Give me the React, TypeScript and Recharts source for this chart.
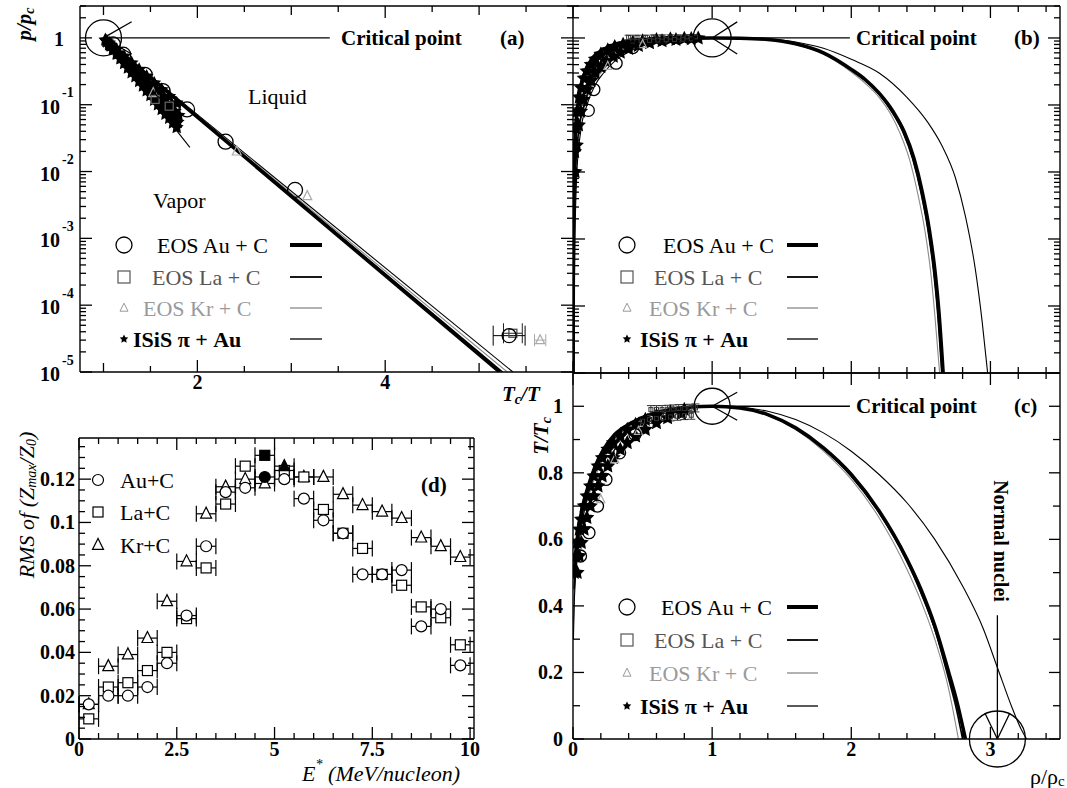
import React from "react";
import {
  ComposedChart,
  Line,
  Scatter,
  XAxis,
  YAxis,
  ErrorBar,
  ReferenceDot,
  ReferenceLine,
} from "recharts";

const FONT = "'Liberation Serif','Times New Roman',serif";

type P = { x: number; y: number; ex?: number; ey?: number };

// ================= Panel (a): p/pc vs Tc/T =================
const aFitAu: P[] = [{ x: 1, y: 1 }, { x: 5.22, y: 1e-5 }];
const aFitLa: P[] = [{ x: 1, y: 1 }, { x: 5.25, y: 1e-5 }];
const aFitKr: P[] = [{ x: 1, y: 1 }, { x: 5.3, y: 1e-5 }];
const aFitIsis: P[] = [{ x: 1, y: 1 }, { x: 5.36, y: 1e-5 }];
const aFitIsisSteep: P[] = [{ x: 1, y: 1 }, { x: 1.92, y: 0.023 }];
const aAu: P[] = [
  { x: 1.1, y: 0.8 }, { x: 1.21, y: 0.56 }, { x: 1.44, y: 0.28 }, { x: 1.63, y: 0.16 },
  { x: 1.89, y: 0.085 }, { x: 2.3, y: 0.028 }, { x: 3.04, y: 0.0053 },
];
const aAuOut: P[] = [{ x: 5.32, y: 3.5e-5, ex: 0.17 }];
const aLa: P[] = [{ x: 1.55, y: 0.12 }, { x: 1.7, y: 0.095 }];
const aLaOut: P[] = [{ x: 5.36, y: 3.8e-5, ex: 0.1 }];
const aKr: P[] = [{ x: 1.53, y: 0.15 }, { x: 2.42, y: 0.02 }, { x: 3.17, y: 0.0043 }];
const aKrOut: P[] = [{ x: 5.65, y: 3e-5, ex: 0.06 }];
const aIsis: P[] = [
  { x: 1.02, y: 0.933 }, { x: 1.06, y: 0.794 }, { x: 1.1, y: 0.676 }, { x: 1.14, y: 0.575 },
  { x: 1.18, y: 0.49 }, { x: 1.22, y: 0.417 }, { x: 1.26, y: 0.355 }, { x: 1.3, y: 0.302 },
  { x: 1.34, y: 0.263 }, { x: 1.38, y: 0.224 }, { x: 1.42, y: 0.191 }, { x: 1.46, y: 0.162 },
  { x: 1.5, y: 0.138 }, { x: 1.54, y: 0.117 }, { x: 1.58, y: 0.1 }, { x: 1.62, y: 0.0851 },
  { x: 1.66, y: 0.0724 }, { x: 1.7, y: 0.0631 }, { x: 1.74, y: 0.0537 }, { x: 1.78, y: 0.0457 },
  { x: 1.04, y: 0.871 }, { x: 1.08, y: 0.759 }, { x: 1.12, y: 0.676 }, { x: 1.16, y: 0.589 },
  { x: 1.2, y: 0.513 }, { x: 1.24, y: 0.447 }, { x: 1.28, y: 0.389 }, { x: 1.32, y: 0.347 },
  { x: 1.36, y: 0.302 }, { x: 1.4, y: 0.263 }, { x: 1.44, y: 0.229 }, { x: 1.48, y: 0.2 },
  { x: 1.52, y: 0.178 }, { x: 1.56, y: 0.155 }, { x: 1.6, y: 0.135 }, { x: 1.64, y: 0.117 },
  { x: 1.68, y: 0.102 }, { x: 1.72, y: 0.0912 }, { x: 1.76, y: 0.0794 }, { x: 1.8, y: 0.0692 },
  { x: 1.03, y: 0.895 }, { x: 1.07, y: 0.773 }, { x: 1.11, y: 0.667 }, { x: 1.15, y: 0.575 },
  { x: 1.19, y: 0.497 }, { x: 1.23, y: 0.429 }, { x: 1.27, y: 0.37 }, { x: 1.31, y: 0.319 },
  { x: 1.35, y: 0.275 }, { x: 1.39, y: 0.238 }, { x: 1.43, y: 0.205 }, { x: 1.47, y: 0.177 },
  { x: 1.51, y: 0.153 }, { x: 1.55, y: 0.132 }, { x: 1.59, y: 0.114 }, { x: 1.63, y: 0.0982 },
  { x: 1.67, y: 0.0847 }, { x: 1.71, y: 0.0731 }, { x: 1.75, y: 0.0631 }, { x: 1.79, y: 0.0545 },
  { x: 1.06, y: 0.841 }, { x: 1.14, y: 0.668 }, { x: 1.22, y: 0.531 }, { x: 1.3, y: 0.422 },
  { x: 1.38, y: 0.335 }, { x: 1.46, y: 0.266 }, { x: 1.54, y: 0.211 }, { x: 1.62, y: 0.168 },
  { x: 1.7, y: 0.133 }, { x: 1.78, y: 0.106 },
];

// ================= Panel (b): p/pc vs rho/rhoc =================
const bAu: P[] = [
  { x: 0.001, y: 1e-5 }, { x: 0.0015, y: 1e-4 }, { x: 0.003, y: 1e-3 }, { x: 0.008, y: 0.01 },
  { x: 0.018, y: 0.04 }, { x: 0.035, y: 0.1 }, { x: 0.06, y: 0.2 }, { x: 0.09, y: 0.32 },
  { x: 0.14, y: 0.5 }, { x: 0.22, y: 0.68 }, { x: 0.3, y: 0.8 }, { x: 0.4, y: 0.89 },
  { x: 0.55, y: 0.95 }, { x: 0.75, y: 0.985 }, { x: 1, y: 1 },
  { x: 1.2, y: 0.99 }, { x: 1.4, y: 0.95 }, { x: 1.6, y: 0.82 }, { x: 1.8, y: 0.6 },
  { x: 2.0, y: 0.34 }, { x: 2.1, y: 0.24 }, { x: 2.2, y: 0.15 }, { x: 2.3, y: 0.08 },
  { x: 2.38, y: 0.04 }, { x: 2.45, y: 0.016 }, { x: 2.51, y: 5e-3 }, { x: 2.56, y: 1.4e-3 },
  { x: 2.6, y: 3.5e-4 }, { x: 2.63, y: 8e-5 }, { x: 2.66, y: 1e-5 },
];
const bLa: P[] = [
  { x: 0.002, y: 1e-5 }, { x: 0.004, y: 1e-4 }, { x: 0.008, y: 1e-3 }, { x: 0.018, y: 0.01 },
  { x: 0.04, y: 0.04 }, { x: 0.08, y: 0.1 }, { x: 0.13, y: 0.2 }, { x: 0.18, y: 0.3 },
  { x: 0.26, y: 0.46 }, { x: 0.36, y: 0.64 }, { x: 0.48, y: 0.8 }, { x: 0.62, y: 0.9 },
  { x: 0.8, y: 0.97 }, { x: 1, y: 1 },
  { x: 1.2, y: 0.99 }, { x: 1.4, y: 0.95 }, { x: 1.6, y: 0.81 }, { x: 1.8, y: 0.59 },
  { x: 2.0, y: 0.33 }, { x: 2.1, y: 0.23 }, { x: 2.2, y: 0.145 }, { x: 2.29, y: 0.08 },
  { x: 2.37, y: 0.04 }, { x: 2.44, y: 0.016 }, { x: 2.5, y: 5e-3 }, { x: 2.55, y: 1.4e-3 },
  { x: 2.59, y: 3.5e-4 }, { x: 2.62, y: 8e-5 }, { x: 2.65, y: 1e-5 },
];
const bKr: P[] = [
  { x: 0.003, y: 1e-5 }, { x: 0.006, y: 1e-4 }, { x: 0.011, y: 1e-3 }, { x: 0.022, y: 0.01 },
  { x: 0.045, y: 0.04 }, { x: 0.085, y: 0.1 }, { x: 0.14, y: 0.2 }, { x: 0.2, y: 0.3 },
  { x: 0.28, y: 0.46 }, { x: 0.38, y: 0.64 }, { x: 0.5, y: 0.8 }, { x: 0.64, y: 0.9 },
  { x: 0.8, y: 0.97 }, { x: 1, y: 1 },
  { x: 1.2, y: 0.99 }, { x: 1.4, y: 0.94 }, { x: 1.6, y: 0.8 }, { x: 1.8, y: 0.57 },
  { x: 2.0, y: 0.31 }, { x: 2.1, y: 0.21 }, { x: 2.2, y: 0.13 }, { x: 2.28, y: 0.075 },
  { x: 2.35, y: 0.038 }, { x: 2.42, y: 0.015 }, { x: 2.48, y: 4.5e-3 }, { x: 2.53, y: 1.3e-3 },
  { x: 2.57, y: 3.3e-4 }, { x: 2.6, y: 7.5e-5 }, { x: 2.635, y: 1e-5 },
];
const bIsis: P[] = [
  { x: 0.004, y: 1e-5 }, { x: 0.008, y: 1e-4 }, { x: 0.014, y: 1e-3 }, { x: 0.028, y: 0.01 },
  { x: 0.055, y: 0.04 }, { x: 0.1, y: 0.1 }, { x: 0.16, y: 0.2 }, { x: 0.22, y: 0.3 },
  { x: 0.3, y: 0.45 }, { x: 0.4, y: 0.62 }, { x: 0.52, y: 0.78 }, { x: 0.66, y: 0.89 },
  { x: 0.82, y: 0.965 }, { x: 1, y: 1 },
  { x: 1.2, y: 0.99 }, { x: 1.4, y: 0.96 }, { x: 1.6, y: 0.87 }, { x: 1.8, y: 0.7 },
  { x: 2.0, y: 0.48 }, { x: 2.2, y: 0.3 }, { x: 2.4, y: 0.13 }, { x: 2.55, y: 0.055 },
  { x: 2.65, y: 0.025 }, { x: 2.75, y: 8e-3 }, { x: 2.82, y: 2.2e-3 }, { x: 2.89, y: 3.7e-4 },
  { x: 2.94, y: 6e-5 }, { x: 2.98, y: 1e-5 },
];
const bAuPts: P[] = [
  { x: 0.11, y: 0.083 }, { x: 0.15, y: 0.17 }, { x: 0.31, y: 0.42 }, { x: 0.43, y: 0.72 },
];
const bLaPts: P[] = [
  { x: 0.4, y: 1.02, ey: 0.08 }, { x: 0.46, y: 1.02, ey: 0.08 }, { x: 0.52, y: 1.02, ey: 0.08 },
  { x: 0.58, y: 1.03, ey: 0.08 }, { x: 0.64, y: 1.03, ey: 0.08 }, { x: 0.7, y: 1.03, ey: 0.08 },
  { x: 0.76, y: 1.03, ey: 0.08 }, { x: 0.82, y: 1.04, ey: 0.08 }, { x: 0.88, y: 1.04, ey: 0.08 },
  { x: 0.43, y: 0.9, ey: 0.07 }, { x: 0.49, y: 0.91, ey: 0.07 }, { x: 0.55, y: 0.92, ey: 0.07 },
  { x: 0.61, y: 0.93, ey: 0.07 }, { x: 0.67, y: 0.94, ey: 0.07 }, { x: 0.73, y: 0.95, ey: 0.07 },
  { x: 0.79, y: 0.96, ey: 0.07 }, { x: 0.85, y: 0.97, ey: 0.07 },
];
const bKrPts: P[] = [{ x: 0.25, y: 0.38 }, { x: 0.5, y: 0.8 }];
const bIsisPts: P[] = [
  { x: 0.012, y: 0.02 }, { x: 0.02, y: 0.045 }, { x: 0.03, y: 0.08 }, { x: 0.045, y: 0.13 },
  { x: 0.06, y: 0.18 }, { x: 0.08, y: 0.25 }, { x: 0.1, y: 0.32 }, { x: 0.13, y: 0.4 },
  { x: 0.16, y: 0.48 }, { x: 0.2, y: 0.57 }, { x: 0.25, y: 0.66 }, { x: 0.3, y: 0.74 },
  { x: 0.36, y: 0.8 }, { x: 0.43, y: 0.86 }, { x: 0.5, y: 0.9 }, { x: 0.6, y: 0.94 },
  { x: 0.7, y: 0.965 }, { x: 0.8, y: 0.98 }, { x: 0.9, y: 0.99 },
  { x: 0.015, y: 0.01 }, { x: 0.025, y: 0.025 }, { x: 0.04, y: 0.05 }, { x: 0.055, y: 0.08 },
  { x: 0.075, y: 0.12 }, { x: 0.1, y: 0.17 }, { x: 0.13, y: 0.23 }, { x: 0.16, y: 0.3 },
  { x: 0.2, y: 0.37 }, { x: 0.24, y: 0.45 }, { x: 0.29, y: 0.53 }, { x: 0.34, y: 0.61 },
  { x: 0.4, y: 0.69 }, { x: 0.47, y: 0.77 }, { x: 0.55, y: 0.84 }, { x: 0.64, y: 0.9 },
  { x: 0.74, y: 0.94 }, { x: 0.85, y: 0.97 },
];

// ================= Panel (c): T/Tc vs rho/rhoc =================
const cAu: P[] = [
  { x: 0.01, y: 0.5 }, { x: 0.02, y: 0.56 }, { x: 0.04, y: 0.63 }, { x: 0.07, y: 0.7 },
  { x: 0.11, y: 0.76 }, { x: 0.16, y: 0.82 }, { x: 0.22, y: 0.87 }, { x: 0.3, y: 0.915 },
  { x: 0.42, y: 0.95 }, { x: 0.55, y: 0.975 }, { x: 0.7, y: 0.99 }, { x: 0.85, y: 0.998 }, { x: 1, y: 1 },
  { x: 1.2, y: 0.995 }, { x: 1.4, y: 0.975 }, { x: 1.6, y: 0.935 }, { x: 1.8, y: 0.875 },
  { x: 2.0, y: 0.795 }, { x: 2.2, y: 0.685 }, { x: 2.4, y: 0.54 }, { x: 2.5, y: 0.45 },
  { x: 2.6, y: 0.34 }, { x: 2.7, y: 0.2 }, { x: 2.76, y: 0.11 }, { x: 2.82, y: 0 },
];
const cLa: P[] = [
  { x: 0.008, y: 0.45 }, { x: 0.02, y: 0.54 }, { x: 0.04, y: 0.615 }, { x: 0.07, y: 0.685 },
  { x: 0.11, y: 0.75 }, { x: 0.16, y: 0.81 }, { x: 0.22, y: 0.86 }, { x: 0.3, y: 0.91 },
  { x: 0.42, y: 0.948 }, { x: 0.55, y: 0.973 }, { x: 0.7, y: 0.989 }, { x: 0.85, y: 0.997 }, { x: 1, y: 1 },
  { x: 1.2, y: 0.995 }, { x: 1.4, y: 0.974 }, { x: 1.6, y: 0.933 }, { x: 1.8, y: 0.872 },
  { x: 2.0, y: 0.79 }, { x: 2.2, y: 0.68 }, { x: 2.4, y: 0.535 }, { x: 2.5, y: 0.44 },
  { x: 2.6, y: 0.33 }, { x: 2.7, y: 0.18 }, { x: 2.75, y: 0.1 }, { x: 2.8, y: 0 },
];
const cKr: P[] = [
  { x: 0.003, y: 0.35 }, { x: 0.012, y: 0.45 }, { x: 0.035, y: 0.56 }, { x: 0.07, y: 0.66 },
  { x: 0.12, y: 0.74 }, { x: 0.18, y: 0.81 }, { x: 0.26, y: 0.87 }, { x: 0.36, y: 0.92 },
  { x: 0.48, y: 0.956 }, { x: 0.62, y: 0.98 }, { x: 0.8, y: 0.995 }, { x: 1, y: 1 },
  { x: 1.2, y: 0.995 }, { x: 1.4, y: 0.972 }, { x: 1.6, y: 0.93 }, { x: 1.8, y: 0.865 },
  { x: 2.0, y: 0.78 }, { x: 2.2, y: 0.665 }, { x: 2.4, y: 0.51 }, { x: 2.5, y: 0.415 },
  { x: 2.6, y: 0.3 }, { x: 2.7, y: 0.15 }, { x: 2.77, y: 0 },
];
const cIsis: P[] = [
  { x: 0.003, y: 0.3 }, { x: 0.01, y: 0.42 }, { x: 0.03, y: 0.54 }, { x: 0.06, y: 0.64 },
  { x: 0.1, y: 0.72 }, { x: 0.16, y: 0.8 }, { x: 0.24, y: 0.87 }, { x: 0.34, y: 0.92 },
  { x: 0.46, y: 0.958 }, { x: 0.6, y: 0.982 }, { x: 0.78, y: 0.996 }, { x: 1, y: 1 },
  { x: 1.2, y: 0.997 }, { x: 1.4, y: 0.985 }, { x: 1.6, y: 0.96 }, { x: 1.8, y: 0.92 },
  { x: 2.0, y: 0.865 }, { x: 2.2, y: 0.795 }, { x: 2.4, y: 0.71 }, { x: 2.6, y: 0.6 },
  { x: 2.8, y: 0.46 }, { x: 2.95, y: 0.33 }, { x: 3.05, y: 0.215 }, { x: 3.15, y: 0.1 },
  { x: 3.22, y: 0.03 }, { x: 3.26, y: 0 },
];
const cAuPts: P[] = [
  { x: 0.054, y: 0.55 }, { x: 0.115, y: 0.62 }, { x: 0.176, y: 0.7 }, { x: 0.237, y: 0.78 },
  { x: 0.335, y: 0.86 }, { x: 0.445, y: 0.915 },
];
const cKrPts: P[] = [{ x: 0.2, y: 0.72 }, { x: 0.3, y: 0.84 }, { x: 0.47, y: 0.925 }];
const cLaPts: P[] = [
  { x: 0.56, y: 0.99, ey: 0.012 }, { x: 0.6, y: 0.99, ey: 0.012 }, { x: 0.64, y: 0.99, ey: 0.012 },
  { x: 0.68, y: 0.991, ey: 0.012 }, { x: 0.72, y: 0.992, ey: 0.012 }, { x: 0.76, y: 0.993, ey: 0.012 },
  { x: 0.8, y: 0.993, ey: 0.012 }, { x: 0.84, y: 0.994, ey: 0.012 }, { x: 0.88, y: 0.995, ey: 0.012 },
  { x: 0.5, y: 0.955, ey: 0.012 }, { x: 0.55, y: 0.96, ey: 0.012 }, { x: 0.6, y: 0.963, ey: 0.012 },
  { x: 0.65, y: 0.966, ey: 0.012 }, { x: 0.7, y: 0.968, ey: 0.012 }, { x: 0.75, y: 0.97, ey: 0.012 },
  { x: 0.8, y: 0.972, ey: 0.012 }, { x: 0.85, y: 0.973, ey: 0.012 },
];
const cIsisPts: P[] = [
  { x: 0.01, y: 0.5 }, { x: 0.02, y: 0.55 }, { x: 0.03, y: 0.59 }, { x: 0.045, y: 0.63 },
  { x: 0.06, y: 0.66 }, { x: 0.08, y: 0.7 }, { x: 0.1, y: 0.73 }, { x: 0.125, y: 0.76 },
  { x: 0.15, y: 0.79 }, { x: 0.18, y: 0.82 }, { x: 0.21, y: 0.845 }, { x: 0.25, y: 0.87 },
  { x: 0.29, y: 0.89 }, { x: 0.34, y: 0.91 }, { x: 0.39, y: 0.93 }, { x: 0.45, y: 0.945 },
  { x: 0.52, y: 0.96 }, { x: 0.6, y: 0.972 }, { x: 0.7, y: 0.982 }, { x: 0.8, y: 0.99 },
  { x: 0.03, y: 0.5 }, { x: 0.045, y: 0.55 }, { x: 0.06, y: 0.59 }, { x: 0.08, y: 0.63 },
  { x: 0.1, y: 0.665 }, { x: 0.125, y: 0.7 }, { x: 0.15, y: 0.73 }, { x: 0.18, y: 0.76 },
  { x: 0.21, y: 0.79 }, { x: 0.25, y: 0.82 }, { x: 0.29, y: 0.845 }, { x: 0.34, y: 0.87 },
  { x: 0.39, y: 0.89 }, { x: 0.45, y: 0.91 }, { x: 0.52, y: 0.93 }, { x: 0.6, y: 0.95 },
  { x: 0.68, y: 0.965 }, { x: 0.78, y: 0.978 },
];

// ================= Panel (d): RMS of Zmax/Z0 vs E* =================
const dAu: P[] = [
  { x: 0.25, y: 0.016, ex: 0.25 }, { x: 0.75, y: 0.02, ex: 0.25 }, { x: 1.25, y: 0.02, ex: 0.25 },
  { x: 1.75, y: 0.024, ex: 0.25 }, { x: 2.25, y: 0.035, ex: 0.25 }, { x: 2.75, y: 0.057, ex: 0.25 },
  { x: 3.25, y: 0.089, ex: 0.25 }, { x: 3.75, y: 0.114, ex: 0.25 }, { x: 4.25, y: 0.116, ex: 0.25 },
  { x: 5.25, y: 0.12, ex: 0.25 }, { x: 5.75, y: 0.111, ex: 0.25 }, { x: 6.25, y: 0.101, ex: 0.25 },
  { x: 6.75, y: 0.095, ex: 0.25 }, { x: 7.25, y: 0.076, ex: 0.25 }, { x: 7.75, y: 0.076, ex: 0.25 },
  { x: 8.25, y: 0.078, ex: 0.25 }, { x: 8.75, y: 0.052, ex: 0.25 }, { x: 9.25, y: 0.06, ex: 0.25 },
  { x: 9.75, y: 0.034, ex: 0.25 },
];
const dAuCrit: P[] = [{ x: 4.75, y: 0.121, ex: 0.25 }];
const dLa: P[] = [
  { x: 0.25, y: 0.0093, ex: 0.25 }, { x: 0.75, y: 0.024, ex: 0.25 }, { x: 1.25, y: 0.026, ex: 0.25 },
  { x: 1.75, y: 0.0316, ex: 0.25 }, { x: 2.25, y: 0.04, ex: 0.25 }, { x: 2.75, y: 0.0556, ex: 0.25 },
  { x: 3.25, y: 0.079, ex: 0.25 }, { x: 3.75, y: 0.1085, ex: 0.25 }, { x: 4.25, y: 0.126, ex: 0.25 },
  { x: 5.25, y: 0.124, ex: 0.25 }, { x: 5.75, y: 0.121, ex: 0.25 }, { x: 6.25, y: 0.106, ex: 0.25 },
  { x: 6.75, y: 0.095, ex: 0.25 }, { x: 7.25, y: 0.088, ex: 0.25 }, { x: 7.75, y: 0.076, ex: 0.25 },
  { x: 8.25, y: 0.071, ex: 0.25 }, { x: 8.75, y: 0.061, ex: 0.25 }, { x: 9.25, y: 0.056, ex: 0.25 },
  { x: 9.75, y: 0.0435, ex: 0.25 },
];
const dLaCrit: P[] = [{ x: 4.75, y: 0.131, ex: 0.25 }];
const dKr: P[] = [
  { x: 0.25, y: 0.016, ex: 0.25 }, { x: 0.75, y: 0.0336, ex: 0.25 }, { x: 1.25, y: 0.039, ex: 0.25 },
  { x: 1.75, y: 0.0466, ex: 0.25 }, { x: 2.25, y: 0.0636, ex: 0.25 }, { x: 2.75, y: 0.082, ex: 0.25 },
  { x: 3.25, y: 0.104, ex: 0.25 }, { x: 3.75, y: 0.1165, ex: 0.25 }, { x: 4.25, y: 0.12, ex: 0.25 },
  { x: 4.75, y: 0.118, ex: 0.25 }, { x: 5.75, y: 0.121, ex: 0.25 }, { x: 6.25, y: 0.121, ex: 0.25 },
  { x: 6.75, y: 0.113, ex: 0.25 }, { x: 7.25, y: 0.108, ex: 0.25 }, { x: 7.75, y: 0.105, ex: 0.25 },
  { x: 8.25, y: 0.102, ex: 0.25 }, { x: 8.75, y: 0.093, ex: 0.25 }, { x: 9.25, y: 0.089, ex: 0.25 },
  { x: 9.75, y: 0.084, ex: 0.25 },
];
const dKrCrit: P[] = [{ x: 5.25, y: 0.126, ex: 0.25 }];

// ================= Tick values =================
const logDecades = [1e-5, 1e-4, 1e-3, 1e-2, 1e-1, 1];
const logMults = [2, 3, 4, 5, 6, 7, 8, 9];
const logTicks = [...logDecades, ...logDecades.flatMap((d) => logMults.map((m) => m * d))]
  .filter((v) => v <= 3)
  .sort((p, q) => p - q);
const aXTicks = [1, 1.5, 2, 2.5, 3, 3.5, 4, 4.5, 5, 5.5];
const aXLabels = [2, 4];
const rhoTicks = [0, 0.2, 0.4, 0.6, 0.8, 1, 1.2, 1.4, 1.6, 1.8, 2, 2.2, 2.4, 2.6, 2.8, 3, 3.2, 3.4];
const rhoLabels = [0, 1, 2, 3];
const cYTicks = [0, 0.1, 0.2, 0.3, 0.4, 0.5, 0.6, 0.7, 0.8, 0.9, 1];
const cYLabels = [0, 0.2, 0.4, 0.6, 0.8, 1];
const dXTicks = [0, 0.5, 1, 1.5, 2, 2.5, 3, 3.5, 4, 4.5, 5, 5.5, 6, 6.5, 7, 7.5, 8, 8.5, 9, 9.5, 10];
const dXLabels = [0, 2.5, 5, 7.5, 10];
const dYTicks = [
  0, 0.005, 0.01, 0.015, 0.02, 0.025, 0.03, 0.035, 0.04, 0.045, 0.05, 0.055, 0.06, 0.065, 0.07,
  0.075, 0.08, 0.085, 0.09, 0.095, 0.1, 0.105, 0.11, 0.115, 0.12, 0.125, 0.13, 0.135,
];
const dYLabels = [0, 0.02, 0.04, 0.06, 0.08, 0.1, 0.12];

// ================= helpers =================
const near = (a: number, b: number) => Math.abs(a - b) < 1e-9;
const inList = (v: number, list: number[]) => list.some((q) => near(q, v));
const isDecade = (v: number) => near(Math.log10(v), Math.round(Math.log10(v)));

const tickText: any = { fontFamily: FONT, fontWeight: "bold", fontSize: 20, fill: "#000" };

function xTick(plotH: number, lenFn: (v: number) => number, labels: number[] | null, dy = 10) {
  return (p: any) => {
    const v = p.payload.value;
    const L = lenFn(v);
    const lab = labels && inList(v, labels) ? String(v) : null;
    return (
      <g>
        <line x1={p.x} x2={p.x} y1={p.y} y2={p.y - L} stroke="#000" strokeWidth={1.3} />
        <line x1={p.x} x2={p.x} y1={p.y - plotH} y2={p.y - plotH + L} stroke="#000" strokeWidth={1.3} />
        {lab !== null && (
          <text x={p.x} y={p.y + dy} textAnchor="middle" dominantBaseline="central" {...tickText}>
            {lab}
          </text>
        )}
      </g>
    );
  };
}

function yTick(plotW: number, lenFn: (v: number) => number, labels: number[] | null, dx = 9) {
  return (p: any) => {
    const v = p.payload.value;
    const L = lenFn(v);
    const lab = labels && inList(v, labels) ? String(v) : null;
    return (
      <g>
        <line x1={p.x} x2={p.x + L} y1={p.y} y2={p.y} stroke="#000" strokeWidth={1.3} />
        <line x1={p.x + plotW} x2={p.x + plotW - L} y1={p.y} y2={p.y} stroke="#000" strokeWidth={1.3} />
        {lab !== null && (
          <text x={p.x - dx} y={p.y} textAnchor="end" dominantBaseline="central" {...tickText}>
            {lab}
          </text>
        )}
      </g>
    );
  };
}

function logYTick(plotW: number, withLabels: boolean) {
  return (p: any) => {
    const v = p.payload.value;
    const major = isDecade(v);
    const L = major ? 12 : 6;
    const e = Math.round(Math.log10(v));
    return (
      <g>
        <line x1={p.x} x2={p.x + L} y1={p.y} y2={p.y} stroke="#000" strokeWidth={1.3} />
        <line x1={p.x + plotW} x2={p.x + plotW - L} y1={p.y} y2={p.y} stroke="#000" strokeWidth={1.3} />
        {withLabels && major && e === 0 && (
          <text x={p.x - 16} y={p.y + 1} textAnchor="end" dominantBaseline="central" {...tickText}>
            1
          </text>
        )}
        {withLabels && major && e !== 0 && (
          <g>
            <text x={p.x - 20} y={p.y + 2} textAnchor="end" dominantBaseline="central" {...tickText}>
              10
            </text>
            <text x={p.x - 18} y={p.y - 12} textAnchor="start" dominantBaseline="central" {...tickText} fontSize={14}>
              {"-" + Math.abs(e)}
            </text>
          </g>
        )}
      </g>
    );
  };
}

// marker shapes
const circleShape = (r: number, fill = "none", stroke = "#000", sw = 1.3) => (p: any) =>
  <circle cx={p.cx} cy={p.cy} r={r} fill={fill} stroke={stroke} strokeWidth={sw} />;
const squareShape = (s: number, fill = "none", stroke = "#000", sw = 1.2) => (p: any) =>
  <rect x={p.cx - s / 2} y={p.cy - s / 2} width={s} height={s} fill={fill} stroke={stroke} strokeWidth={sw} />;
const triPts = (cx: number, cy: number, s: number) =>
  `${cx},${cy - s * 0.6} ${cx - s / 2},${cy + s * 0.4} ${cx + s / 2},${cy + s * 0.4}`;
const triShape = (s: number, fill = "none", stroke = "#000", sw = 1.2) => (p: any) =>
  <polygon points={triPts(p.cx, p.cy, s)} fill={fill} stroke={stroke} strokeWidth={sw} />;
const starPts = (cx: number, cy: number, r: number) => {
  const pts: string[] = [];
  for (let i = 0; i < 10; i++) {
    const rr = i % 2 === 0 ? r : r * 0.5;
    const a = -Math.PI / 2 + (i * Math.PI) / 5;
    pts.push(`${(cx + rr * Math.cos(a)).toFixed(2)},${(cy + rr * Math.sin(a)).toFixed(2)}`);
  }
  return pts.join(" ");
};
const starShape = (r: number, fill = "#000") => (p: any) =>
  <polygon points={starPts(p.cx, p.cy, r)} fill={fill} stroke={fill} strokeWidth={1.6} />;

// layout
const ML = 70, MR = 20, MT = 20, MB = 50;
const A = { L: 80, T: 6, w: 493, h: 366 };
const B = { L: 573, T: 6, w: 487, h: 367 };
const C = { L: 573, T: 373, w: 487, h: 366 };
const D = { L: 79, T: 438, w: 395, h: 301 };

const wrap = (r: { L: number; T: number }): any => ({ position: "absolute", left: r.L - ML, top: r.T - MT });
const margin = { top: MT, right: MR, bottom: 0, left: 0 };
const frame = { stroke: "#000", strokeWidth: 1.4 };

const LW = { au: 3.6, la: 1.6, kr: 1.1, isis: 1.1 };
const GRAY = "#8a8a8a";

function PanelA() {
  return (
    <div style={wrap(A)}>
      <ComposedChart width={A.w + ML + MR} height={A.h + MT + MB} margin={margin}>
        <XAxis dataKey="x" type="number" domain={[0.75, 6]} allowDataOverflow ticks={aXTicks} interval={0}
          tickSize={0} tickMargin={0} tickLine={false} axisLine={frame} height={MB}
          tick={xTick(A.h, (v) => (inList(v, aXLabels) ? 12 : Number.isInteger(v) ? 9 : 6), aXLabels, 10)} />
        <YAxis dataKey="y" type="number" scale="log" domain={[1e-5, 3]} allowDataOverflow ticks={logTicks}
          interval={0} tickSize={0} tickMargin={0} tickLine={false} axisLine={frame} width={ML}
          tick={logYTick(A.w, true)} />
        <ReferenceLine y={3} stroke="#000" strokeWidth={1.4} ifOverflow="visible" />
        <Line data={aFitKr} dataKey="y" stroke={GRAY} strokeWidth={LW.kr} dot={false} isAnimationActive={false} />
        <Line data={aFitIsis} dataKey="y" stroke="#000" strokeWidth={LW.isis} dot={false} isAnimationActive={false} />
        <Line data={aFitLa} dataKey="y" stroke="#000" strokeWidth={LW.la} dot={false} isAnimationActive={false} />
        <Line data={aFitAu} dataKey="y" stroke="#000" strokeWidth={LW.au} dot={false} isAnimationActive={false} />
        <Line data={aFitIsisSteep} dataKey="y" stroke="#000" strokeWidth={LW.isis} dot={false} isAnimationActive={false} />
        <Scatter data={aIsis} shape={starShape(5.5)} isAnimationActive={false} />
        <Scatter data={aKr} shape={triShape(9, "none", "#aaa")} isAnimationActive={false} />
        <Scatter data={aLa} shape={squareShape(8, "none", "#666")} isAnimationActive={false} />
        <Scatter data={aAu} shape={circleShape(7.5)} isAnimationActive={false} />
        <Scatter data={aKrOut} shape={triShape(9, "none", "#aaa")} isAnimationActive={false}>
          <ErrorBar dataKey="ex" direction="x" width={6} stroke="#aaa" strokeWidth={1} />
        </Scatter>
        <Scatter data={aLaOut} shape={squareShape(8, "none", "#444")} isAnimationActive={false}>
          <ErrorBar dataKey="ex" direction="x" width={10} stroke="#222" strokeWidth={1} />
        </Scatter>
        <Scatter data={aAuOut} shape={circleShape(7)} isAnimationActive={false}>
          <ErrorBar dataKey="ex" direction="x" width={10} stroke="#000" strokeWidth={1} />
        </Scatter>
        <ReferenceDot x={1} y={1} r={18} fill="none" stroke="#000" strokeWidth={1.3} ifOverflow="visible" />
        <ReferenceLine segment={[{ x: 1, y: 1 }, { x: 3.41, y: 1 }]} stroke="#000" strokeWidth={1.3} ifOverflow="visible" />
        <ReferenceLine segment={[{ x: 1, y: 1 }, { x: 1.3, y: 1.74 }]} stroke="#000" strokeWidth={1.3} ifOverflow="visible" />
        <ReferenceLine segment={[{ x: 1, y: 1 }, { x: 1.3, y: 0.575 }]} stroke="#000" strokeWidth={1.3} ifOverflow="visible" />
      </ComposedChart>
    </div>
  );
}

function PanelB() {
  return (
    <div style={wrap(B)}>
      <ComposedChart width={B.w + ML + MR} height={B.h + MT + MB} margin={margin}>
        <XAxis dataKey="x" type="number" domain={[0, 3.5]} allowDataOverflow ticks={rhoTicks} interval={0}
          tickSize={0} tickMargin={0} tickLine={false} axisLine={frame} height={MB}
          tick={xTick(B.h, (v) => (Number.isInteger(v) ? 12 : 6), null)} />
        <YAxis dataKey="y" type="number" scale="log" domain={[1e-5, 3]} allowDataOverflow ticks={logTicks}
          interval={0} tickSize={0} tickMargin={0} tickLine={false} axisLine={frame} width={ML}
          tick={logYTick(B.w, false)} />
        <ReferenceLine y={3} stroke="#000" strokeWidth={1.4} ifOverflow="visible" />
        <ReferenceLine x={3.5} stroke="#000" strokeWidth={1.4} ifOverflow="visible" />
        <Scatter data={bIsisPts} shape={starShape(6)} isAnimationActive={false} />
        <Line data={bKr} type="monotone" dataKey="y" stroke={GRAY} strokeWidth={LW.kr} dot={false} isAnimationActive={false} />
        <Line data={bIsis} type="monotone" dataKey="y" stroke="#000" strokeWidth={LW.isis} dot={false} isAnimationActive={false} />
        <Line data={bLa} type="monotone" dataKey="y" stroke="#000" strokeWidth={LW.la} dot={false} isAnimationActive={false} />
        <Line data={bAu} type="monotone" dataKey="y" stroke="#000" strokeWidth={LW.au} dot={false} isAnimationActive={false} />
        <Scatter data={bLaPts} shape={squareShape(4, "none", "#333", 1)} isAnimationActive={false}>
          <ErrorBar dataKey="ey" direction="y" width={4} stroke="#333" strokeWidth={1} />
        </Scatter>
        <Scatter data={bKrPts} shape={triShape(8, "none", "#aaa")} isAnimationActive={false} />
        <Scatter data={bAuPts} shape={circleShape(6)} isAnimationActive={false} />
        <ReferenceDot x={1} y={1} r={19} fill="none" stroke="#000" strokeWidth={1.3} ifOverflow="visible" />
        <ReferenceLine segment={[{ x: 1, y: 1 }, { x: 1.99, y: 1 }]} stroke="#000" strokeWidth={1.3} ifOverflow="visible" />
        <ReferenceLine segment={[{ x: 1, y: 1 }, { x: 1.18, y: 1.74 }]} stroke="#000" strokeWidth={1.3} ifOverflow="visible" />
        <ReferenceLine segment={[{ x: 1, y: 1 }, { x: 1.18, y: 0.575 }]} stroke="#000" strokeWidth={1.3} ifOverflow="visible" />
      </ComposedChart>
    </div>
  );
}

function PanelC() {
  return (
    <div style={wrap(C)}>
      <ComposedChart width={C.w + ML + MR} height={C.h + MT + MB} margin={margin}>
        <XAxis dataKey="x" type="number" domain={[0, 3.5]} allowDataOverflow ticks={rhoTicks} interval={0}
          tickSize={0} tickMargin={0} tickLine={false} axisLine={frame} height={MB}
          tick={xTick(C.h, (v) => (Number.isInteger(v) ? 12 : 6), rhoLabels, 10)} />
        <YAxis dataKey="y" type="number" domain={[0, 1.1]} allowDataOverflow ticks={cYTicks}
          interval={0} tickSize={0} tickMargin={0} tickLine={false} axisLine={frame} width={ML}
          tick={yTick(C.w, (v) => (inList(v, cYLabels) ? 11 : 7), cYLabels, 10)} />
        <ReferenceLine y={1.1} stroke="#000" strokeWidth={1.4} ifOverflow="visible" />
        <ReferenceLine x={3.5} stroke="#000" strokeWidth={1.4} ifOverflow="visible" />
        <Scatter data={cIsisPts} shape={starShape(6)} isAnimationActive={false} />
        <Line data={cKr} type="monotone" dataKey="y" stroke={GRAY} strokeWidth={LW.kr} dot={false} isAnimationActive={false} />
        <Line data={cIsis} type="monotone" dataKey="y" stroke="#000" strokeWidth={LW.isis} dot={false} isAnimationActive={false} />
        <Line data={cLa} type="monotone" dataKey="y" stroke="#000" strokeWidth={LW.la} dot={false} isAnimationActive={false} />
        <Line data={cAu} type="monotone" dataKey="y" stroke="#000" strokeWidth={LW.au} dot={false} isAnimationActive={false} />
        <Scatter data={cLaPts} shape={squareShape(4, "none", "#333", 1)} isAnimationActive={false}>
          <ErrorBar dataKey="ey" direction="y" width={4} stroke="#333" strokeWidth={1} />
        </Scatter>
        <Scatter data={cKrPts} shape={triShape(8, "none", "#aaa")} isAnimationActive={false} />
        <Scatter data={cAuPts} shape={circleShape(6)} isAnimationActive={false} />
        <ReferenceDot x={1} y={1} r={18} fill="none" stroke="#000" strokeWidth={1.3} ifOverflow="visible" />
        <ReferenceLine segment={[{ x: 1, y: 1 }, { x: 1.99, y: 1 }]} stroke="#000" strokeWidth={1.3} ifOverflow="visible" />
        <ReferenceLine segment={[{ x: 1, y: 1 }, { x: 1.18, y: 1.042 }]} stroke="#000" strokeWidth={1.3} ifOverflow="visible" />
        <ReferenceLine segment={[{ x: 1, y: 1 }, { x: 1.18, y: 0.958 }]} stroke="#000" strokeWidth={1.3} ifOverflow="visible" />
        <ReferenceDot x={3.05} y={0} r={28} fill="none" stroke="#000" strokeWidth={1.3} ifOverflow="visible" />
        <ReferenceLine segment={[{ x: 3.05, y: 0.372 }, { x: 3.05, y: 0 }]} stroke="#000" strokeWidth={1.3} ifOverflow="visible" />
        <ReferenceLine segment={[{ x: 3.05, y: 0 }, { x: 2.96, y: 0.078 }]} stroke="#000" strokeWidth={1.3} ifOverflow="visible" />
        <ReferenceLine segment={[{ x: 3.05, y: 0 }, { x: 3.14, y: 0.078 }]} stroke="#000" strokeWidth={1.3} ifOverflow="visible" />
      </ComposedChart>
    </div>
  );
}

function PanelD() {
  return (
    <div style={wrap(D)}>
      <ComposedChart width={D.w + ML + MR} height={D.h + MT + MB} margin={margin}>
        <XAxis dataKey="x" type="number" domain={[0, 10.1]} allowDataOverflow ticks={dXTicks} interval={0}
          tickSize={0} tickMargin={0} tickLine={false} axisLine={frame} height={MB}
          tick={xTick(D.h, (v) => (inList(v, dXLabels) ? 12 : 6), dXLabels, 10)} />
        <YAxis dataKey="y" type="number" domain={[0, 0.139]} allowDataOverflow ticks={dYTicks}
          interval={0} tickSize={0} tickMargin={0} tickLine={false} axisLine={frame} width={ML}
          tick={yTick(D.w, (v) => (inList(v, dYLabels) ? 12 : 6), dYLabels, 4)} />
        <ReferenceLine y={0.139} stroke="#000" strokeWidth={1.4} ifOverflow="visible" />
        <ReferenceLine x={10.1} stroke="#000" strokeWidth={1.4} ifOverflow="visible" />
        <Scatter data={dKr} shape={triShape(11, "#fff")} isAnimationActive={false}>
          <ErrorBar dataKey="ex" direction="x" width={8} stroke="#000" strokeWidth={1.2} />
        </Scatter>
        <Scatter data={dLa} shape={squareShape(10, "#fff")} isAnimationActive={false}>
          <ErrorBar dataKey="ex" direction="x" width={8} stroke="#000" strokeWidth={1.2} />
        </Scatter>
        <Scatter data={dAu} shape={circleShape(5.5, "#fff", "#000", 1.2)} isAnimationActive={false}>
          <ErrorBar dataKey="ex" direction="x" width={8} stroke="#000" strokeWidth={1.2} />
        </Scatter>
        <Scatter data={dKrCrit} shape={triShape(11, "#000")} isAnimationActive={false}>
          <ErrorBar dataKey="ex" direction="x" width={8} stroke="#000" strokeWidth={1.2} />
        </Scatter>
        <Scatter data={dLaCrit} shape={squareShape(10, "#000")} isAnimationActive={false}>
          <ErrorBar dataKey="ex" direction="x" width={8} stroke="#000" strokeWidth={1.2} />
        </Scatter>
        <Scatter data={dAuCrit} shape={circleShape(5.5, "#000", "#000", 1.2)} isAnimationActive={false}>
          <ErrorBar dataKey="ex" direction="x" width={8} stroke="#000" strokeWidth={1.2} />
        </Scatter>
      </ComposedChart>
    </div>
  );
}

// ================= overlay: legends & labels =================
const T: any = { fontFamily: FONT, fill: "#000" };

function LegendBlock({ ys, symX, textX, lineX }: { ys: number[]; symX: number; textX: number[]; lineX: [number, number] }) {
  return (
    <g>
      <circle cx={symX} cy={ys[0]} r={8} fill="none" stroke="#000" strokeWidth={1.3} />
      <text x={textX[0]} y={ys[0]} dominantBaseline="central" {...T} fontSize={22}>EOS Au + C</text>
      <line x1={lineX[0]} x2={lineX[1]} y1={ys[0]} y2={ys[0]} stroke="#000" strokeWidth={4} />

      <rect x={symX - 6} y={ys[1] - 6} width={12} height={12} fill="none" stroke="#555" strokeWidth={1.2} />
      <text x={textX[1]} y={ys[1]} dominantBaseline="central" {...T} fill="#555" fontSize={22}>EOS La + C</text>
      <line x1={lineX[0]} x2={lineX[1]} y1={ys[1]} y2={ys[1]} stroke="#000" strokeWidth={1.8} />

      <polygon points={triPts(symX, ys[2], 8)} fill="none" stroke="#999" strokeWidth={1} />
      <text x={textX[2]} y={ys[2]} dominantBaseline="central" {...T} fill="#9a9a9a" fontSize={22}>EOS Kr + C</text>
      <line x1={lineX[0]} x2={lineX[1]} y1={ys[2]} y2={ys[2]} stroke="#888" strokeWidth={1.3} />

      <polygon points={starPts(symX, ys[3], 4.5)} fill="#000" />
      <text x={textX[3]} y={ys[3]} dominantBaseline="central" {...T} fontWeight="bold" fontSize={22}>ISiS π + Au</text>
      <line x1={lineX[0]} x2={lineX[1]} y1={ys[3]} y2={ys[3]} stroke="#000" strokeWidth={1.3} />
    </g>
  );
}

function Overlay() {
  return (
    <svg width={1067} height={788} style={{ position: "absolute", left: 0, top: 0, pointerEvents: "none" }}>
      {/* panel (a) */}
      <text transform="rotate(-90 24 24)" x={24} y={24} textAnchor="middle" dominantBaseline="central" {...T}
        fontStyle="italic" fontWeight="bold" fontSize={21}>
        p/p<tspan fontSize={14} dy={5}>c</tspan>
      </text>
      <text x={341} y={38} dominantBaseline="central" {...T} fontWeight="bold" fontSize={21}>Critical point</text>
      <text x={500} y={38} dominantBaseline="central" {...T} fontWeight="bold" fontSize={21}>(a)</text>
      <text x={248} y={104} {...T} fontSize={22}>Liquid</text>
      <text x={153} y={208} {...T} fontSize={22}>Vapor</text>
      <LegendBlock ys={[245, 277, 308, 339]} symX={124} textX={[157, 152, 143, 133]} lineX={[290, 322]} />
      <text x={502} y={394} dominantBaseline="central" {...T} fontStyle="italic" fontWeight="bold" fontSize={21}>
        T<tspan fontSize={14} dy={5}>c</tspan><tspan dy={-5}>/T</tspan>
      </text>

      {/* panel (b) */}
      <text x={856} y={38} dominantBaseline="central" {...T} fontWeight="bold" fontSize={21}>Critical point</text>
      <text x={1014} y={38} dominantBaseline="central" {...T} fontWeight="bold" fontSize={21}>(b)</text>
      <LegendBlock ys={[245, 277, 308, 339]} symX={627} textX={[663, 654, 649, 640]} lineX={[787, 818]} />

      {/* panel (c) */}
      <text x={856} y={406} dominantBaseline="central" {...T} fontWeight="bold" fontSize={21}>Critical point</text>
      <text x={1014} y={406} dominantBaseline="central" {...T} fontWeight="bold" fontSize={21}>(c)</text>
      <LegendBlock ys={[607, 640, 673, 706]} symX={627} textX={[661, 654, 649, 640]} lineX={[787, 818]} />
      <text transform="rotate(-90 541 436)" x={541} y={436} textAnchor="middle" dominantBaseline="central" {...T}
        fontStyle="italic" fontWeight="bold" fontSize={21}>
        T/T<tspan fontSize={14} dy={5}>c</tspan>
      </text>
      <text transform="rotate(90 1001 541)" x={1001} y={541} textAnchor="middle" dominantBaseline="central" {...T}
        fontWeight="bold" fontSize={20}>Normal nuclei</text>
      <text x={1030} y={776} dominantBaseline="central" {...T} fontSize={22}>
        ρ/ρ<tspan fontSize={15} dy={5}>c</tspan>
      </text>

      {/* panel (d) */}
      <circle cx={98} cy={480} r={5.5} fill="none" stroke="#000" strokeWidth={1.2} />
      <text x={120} y={480} dominantBaseline="central" {...T} fontSize={22}>Au+C</text>
      <rect x={93} y={507} width={10} height={10} fill="none" stroke="#000" strokeWidth={1.2} />
      <text x={120} y={512} dominantBaseline="central" {...T} fontSize={22}>La+C</text>
      <polygon points={triPts(98, 545, 11)} fill="none" stroke="#000" strokeWidth={1.2} />
      <text x={120} y={545} dominantBaseline="central" {...T} fontSize={22}>Kr+C</text>
      <text x={421} y={485} dominantBaseline="central" {...T} fontWeight="bold" fontSize={21}>(d)</text>
      <text transform="rotate(-90 26 505)" x={26} y={505} textAnchor="middle" dominantBaseline="central" {...T}
        fontStyle="italic" fontSize={22}>
        RMS of (Z<tspan fontSize={14} dy={5}>max</tspan><tspan dy={-5}>/Z</tspan><tspan fontSize={14} dy={5}>0</tspan><tspan dy={-5}>)</tspan>
      </text>
      <text x={460} y={773} textAnchor="end" dominantBaseline="central" {...T} fontStyle="italic" fontSize={22}>
        E<tspan fontSize={14} dy={-9}>*</tspan><tspan dy={9}> (MeV/nucleon)</tspan>
      </text>
    </svg>
  );
}

export default function App() {
  return (
    <div style={{ position: "absolute", left: 0, top: 0, width: 1067, height: 788, background: "#fff", overflow: "hidden" }}>
      <PanelA />
      <PanelB />
      <PanelC />
      <PanelD />
      <Overlay />
    </div>
  );
}
